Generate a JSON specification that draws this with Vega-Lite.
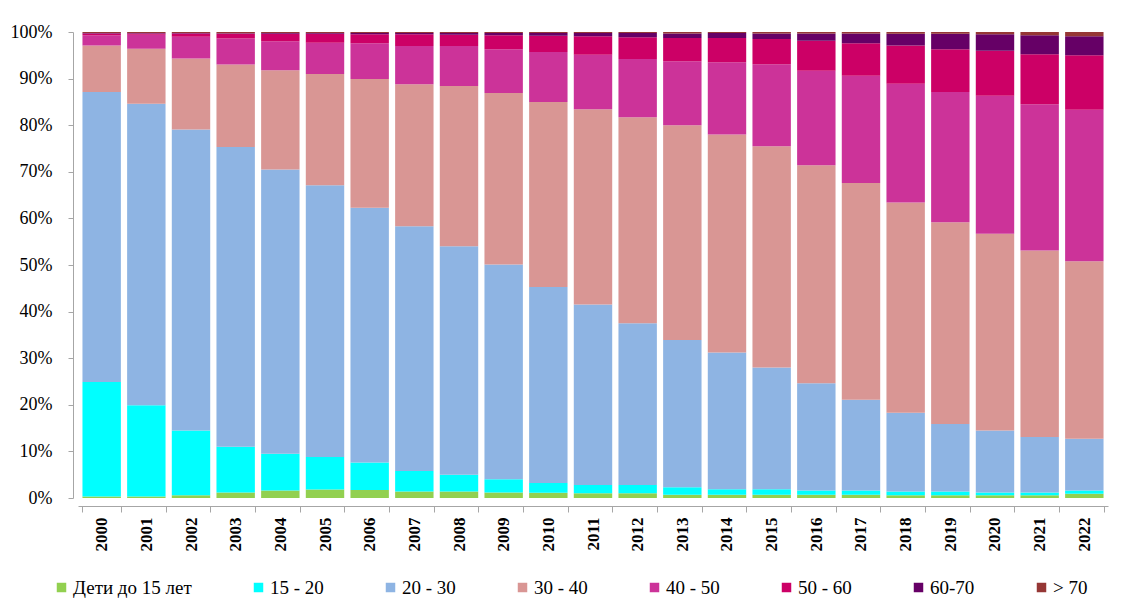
{
  "$schema": "https://vega.github.io/schema/vega-lite/v6.json",
  "width": 1030,
  "height": 466,
  "autosize": {"type": "none"},
  "padding": {"left": 78, "top": 32, "right": 16, "bottom": 100},
  "background": "white",
  "datasets": {
    "groups": [
      {"g": "Дети до 15 лет", "o": 1},
      {"g": "15 - 20", "o": 2},
      {"g": "20 - 30", "o": 3},
      {"g": "30 - 40", "o": 4},
      {"g": "40 - 50", "o": 5},
      {"g": "50 - 60", "o": 6},
      {"g": "60-70", "o": 7},
      {"g": "> 70", "o": 8}
    ]
  },
  "data": {
    "values": [
      {"year": "2000", "Дети до 15 лет": 0.3, "15 - 20": 24.6, "20 - 30": 62.2, "30 - 40": 10.0, "40 - 50": 2.2, "50 - 60": 0.4, "60-70": 0.1, "> 70": 0.2},
      {"year": "2001", "Дети до 15 лет": 0.3, "15 - 20": 19.6, "20 - 30": 64.7, "30 - 40": 11.8, "40 - 50": 3.0, "50 - 60": 0.3, "60-70": 0.1, "> 70": 0.2},
      {"year": "2002", "Дети до 15 лет": 0.6, "15 - 20": 13.9, "20 - 30": 64.6, "30 - 40": 15.2, "40 - 50": 4.7, "50 - 60": 0.7, "60-70": 0.1, "> 70": 0.2},
      {"year": "2003", "Дети до 15 лет": 1.2, "15 - 20": 9.8, "20 - 30": 64.3, "30 - 40": 17.7, "40 - 50": 5.6, "50 - 60": 1.0, "60-70": 0.15, "> 70": 0.25},
      {"year": "2004", "Дети до 15 лет": 1.6, "15 - 20": 7.9, "20 - 30": 61.0, "30 - 40": 21.3, "40 - 50": 6.2, "50 - 60": 1.6, "60-70": 0.2, "> 70": 0.2},
      {"year": "2005", "Дети до 15 лет": 1.8, "15 - 20": 7.0, "20 - 30": 58.3, "30 - 40": 23.9, "40 - 50": 6.7, "50 - 60": 1.9, "60-70": 0.2, "> 70": 0.2},
      {"year": "2006", "Дети до 15 лет": 1.7, "15 - 20": 5.9, "20 - 30": 54.7, "30 - 40": 27.6, "40 - 50": 7.7, "50 - 60": 1.9, "60-70": 0.3, "> 70": 0.2},
      {"year": "2007", "Дети до 15 лет": 1.4, "15 - 20": 4.4, "20 - 30": 52.5, "30 - 40": 30.5, "40 - 50": 8.2, "50 - 60": 2.5, "60-70": 0.3, "> 70": 0.2},
      {"year": "2008", "Дети до 15 лет": 1.4, "15 - 20": 3.6, "20 - 30": 49.0, "30 - 40": 34.4, "40 - 50": 8.6, "50 - 60": 2.4, "60-70": 0.4, "> 70": 0.2},
      {"year": "2009", "Дети до 15 лет": 1.2, "15 - 20": 2.8, "20 - 30": 46.1, "30 - 40": 36.8, "40 - 50": 9.4, "50 - 60": 3.0, "60-70": 0.5, "> 70": 0.2},
      {"year": "2010", "Дети до 15 лет": 1.1, "15 - 20": 2.1, "20 - 30": 42.1, "30 - 40": 39.7, "40 - 50": 10.7, "50 - 60": 3.5, "60-70": 0.6, "> 70": 0.2},
      {"year": "2011", "Дети до 15 лет": 1.0, "15 - 20": 1.8, "20 - 30": 38.7, "30 - 40": 41.9, "40 - 50": 11.7, "50 - 60": 4.0, "60-70": 0.7, "> 70": 0.2},
      {"year": "2012", "Дети до 15 лет": 1.0, "15 - 20": 1.8, "20 - 30": 34.7, "30 - 40": 44.2, "40 - 50": 12.5, "50 - 60": 4.7, "60-70": 0.9, "> 70": 0.2},
      {"year": "2013", "Дети до 15 лет": 0.7, "15 - 20": 1.6, "20 - 30": 31.6, "30 - 40": 46.1, "40 - 50": 13.7, "50 - 60": 5.0, "60-70": 1.0, "> 70": 0.3},
      {"year": "2014", "Дети до 15 лет": 0.7, "15 - 20": 1.2, "20 - 30": 29.3, "30 - 40": 46.8, "40 - 50": 15.5, "50 - 60": 5.2, "60-70": 1.1, "> 70": 0.2},
      {"year": "2015", "Дети до 15 лет": 0.7, "15 - 20": 1.2, "20 - 30": 26.1, "30 - 40": 47.5, "40 - 50": 17.6, "50 - 60": 5.4, "60-70": 1.2, "> 70": 0.3},
      {"year": "2016", "Дети до 15 лет": 0.7, "15 - 20": 0.9, "20 - 30": 23.0, "30 - 40": 46.8, "40 - 50": 20.3, "50 - 60": 6.4, "60-70": 1.6, "> 70": 0.3},
      {"year": "2017", "Дети до 15 лет": 0.7, "15 - 20": 0.9, "20 - 30": 19.5, "30 - 40": 46.5, "40 - 50": 23.0, "50 - 60": 7.0, "60-70": 2.1, "> 70": 0.3},
      {"year": "2018", "Дети до 15 лет": 0.6, "15 - 20": 0.8, "20 - 30": 16.9, "30 - 40": 45.1, "40 - 50": 25.5, "50 - 60": 8.2, "60-70": 2.5, "> 70": 0.4},
      {"year": "2019", "Дети до 15 лет": 0.6, "15 - 20": 0.8, "20 - 30": 14.5, "30 - 40": 43.3, "40 - 50": 27.9, "50 - 60": 9.2, "60-70": 3.3, "> 70": 0.4},
      {"year": "2020", "Дети до 15 лет": 0.6, "15 - 20": 0.6, "20 - 30": 13.3, "30 - 40": 42.2, "40 - 50": 29.6, "50 - 60": 9.7, "60-70": 3.5, "> 70": 0.5},
      {"year": "2021", "Дети до 15 лет": 0.6, "15 - 20": 0.6, "20 - 30": 11.9, "30 - 40": 40.0, "40 - 50": 31.4, "50 - 60": 10.7, "60-70": 4.1, "> 70": 0.7},
      {"year": "2022", "Дети до 15 лет": 0.9, "15 - 20": 0.7, "20 - 30": 11.1, "30 - 40": 38.1, "40 - 50": 32.5, "50 - 60": 11.7, "60-70": 4.1, "> 70": 0.9}
    ]
  },
  "transform": [
    {"fold": ["Дети до 15 лет", "15 - 20", "20 - 30", "30 - 40", "40 - 50", "50 - 60", "60-70", "> 70"], "as": ["group", "share"]},
    {"lookup": "group", "from": {"data": {"name": "groups"}, "key": "g", "fields": ["o"]}}
  ],
  "mark": {"type": "bar", "stroke": null},
  "encoding": {
    "x": {
      "field": "year",
      "type": "ordinal",
      "scale": {"paddingInner": 0.14, "paddingOuter": 0.1},
      "axis": {
        "title": null,
        "labelAngle": 270,
        "labelFont": "'Liberation Serif', 'Times New Roman', serif",
        "labelFontSize": 17,
        "labelFontWeight": "bold",
        "labelColor": "#000000",
        "labelPadding": 5,
        "tickBand": "extent",
        "tickColor": "#A6A6A6",
        "domainColor": "#A6A6A6",
        "tickSize": 6,
        "offset": 8
      }
    },
    "y": {
      "field": "share",
      "type": "quantitative",
      "stack": "normalize",
      "scale": {"domain": [0, 1]},
      "axis": {
        "title": null,
        "format": ".0%",
        "values": [0, 0.1, 0.2, 0.3, 0.4, 0.5, 0.6, 0.7, 0.8, 0.9, 1],
        "labelFont": "'Liberation Serif', 'Times New Roman', serif",
        "labelFontSize": 18,
        "labelColor": "#000000",
        "grid": false,
        "tickColor": "#A6A6A6",
        "domainColor": "#A6A6A6",
        "tickSize": 5,
        "labelPadding": 16,
        "offset": 5
      }
    },
    "color": {
      "field": "group",
      "type": "nominal",
      "scale": {
        "domain": ["Дети до 15 лет", "15 - 20", "20 - 30", "30 - 40", "40 - 50", "50 - 60", "60-70", "> 70"],
        "range": ["#92D050", "#00FFFF", "#8EB4E3", "#D99694", "#CC3399", "#CC0066", "#660066", "#953735"]
      },
      "legend": {
        "title": null,
        "orient": "none",
        "legendX": -26,
        "legendY": 546,
        "direction": "horizontal",
        "columns": 8,
        "gridAlign": "none",
        "columnPadding": 57,
        "symbolType": "square",
        "symbolSize": 90,
        "symbolStrokeWidth": 0,
        "labelFont": "'Liberation Serif', 'Times New Roman', serif",
        "labelFontSize": 19,
        "labelColor": "#000000",
        "labelOffset": 2
      }
    },
    "order": {"field": "o", "type": "quantitative", "sort": "ascending"}
  },
  "config": {"view": {"stroke": null}}
}
